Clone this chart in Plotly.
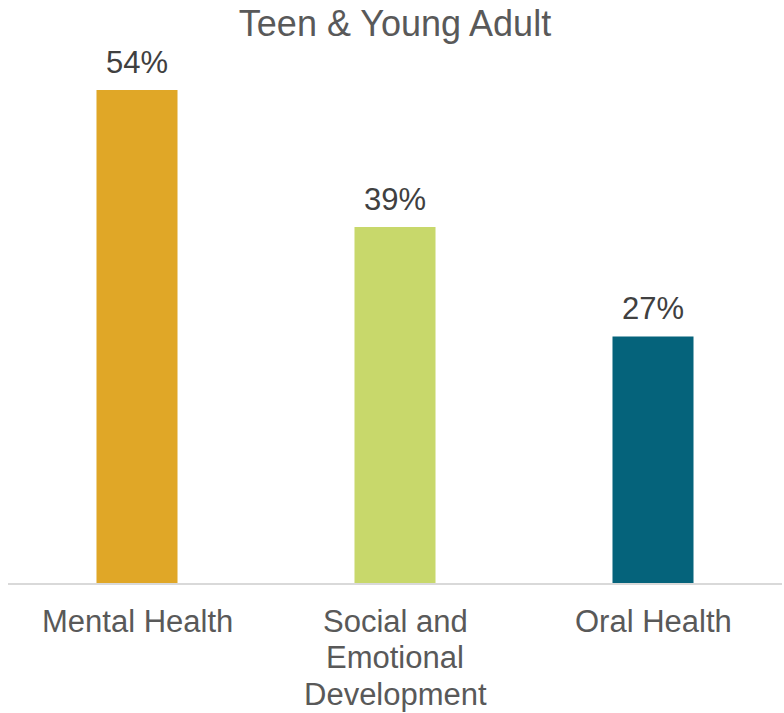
import plotly.graph_objects as go

categories = ["Mental Health", "Social and Emotional Development", "Oral Health"]
label_lines = [["Mental Health"], ["Social and", "Emotional", "Development"], ["Oral Health"]]
values = [54, 39, 27]
bar_colors = ["#E0A727", "#C8D86B", "#05637B"]

FONT = "Liberation Sans, Arial, sans-serif"
LINE_STEP = 36.5   # vertical distance between category label lines, px
FIRST_LINE = 38    # distance from the axis line to the first label line, px

fig = go.Figure()
fig.add_trace(go.Bar(
    x=categories,
    y=values,
    marker=dict(color=bar_colors, line=dict(width=0)),
    width=0.314,
    hoverinfo="skip",
))

# value labels above each bar
for cat, val in zip(categories, values):
    fig.add_annotation(
        x=cat, y=val, text=f"{val}%", showarrow=False,
        yanchor="bottom", yshift=8,
        font=dict(family=FONT, size=31, color="#404040"),
    )

# category labels under the axis, one line at a time for tighter leading
for cat, lines in zip(categories, label_lines):
    for i, line in enumerate(lines):
        fig.add_annotation(
            x=cat, y=0, text=line, showarrow=False,
            xanchor="center", yanchor="middle",
            yshift=-(FIRST_LINE + i * LINE_STEP),
            font=dict(family=FONT, size=31, color="#595959"),
        )

fig.update_layout(
    width=784, height=713,
    margin=dict(l=8, r=2, t=50, b=130, autoexpand=False),
    paper_bgcolor="white", plot_bgcolor="white",
    showlegend=False,
    title=dict(
        text="Teen & Young Adult",
        x=0.5, xref="paper", xanchor="center",
        y=1 - 23 / 713, yref="container", yanchor="middle",
        font=dict(family=FONT, size=36, color="#595959"),
    ),
    xaxis=dict(
        showticklabels=False, automargin=False,
        showline=True, linecolor="#D9D9D9", linewidth=2,
        ticks="", showgrid=False, zeroline=False,
    ),
    yaxis=dict(
        range=[0, 58.38], visible=False, showgrid=False, zeroline=False,
    ),
)

fig.write_html("out.html")
